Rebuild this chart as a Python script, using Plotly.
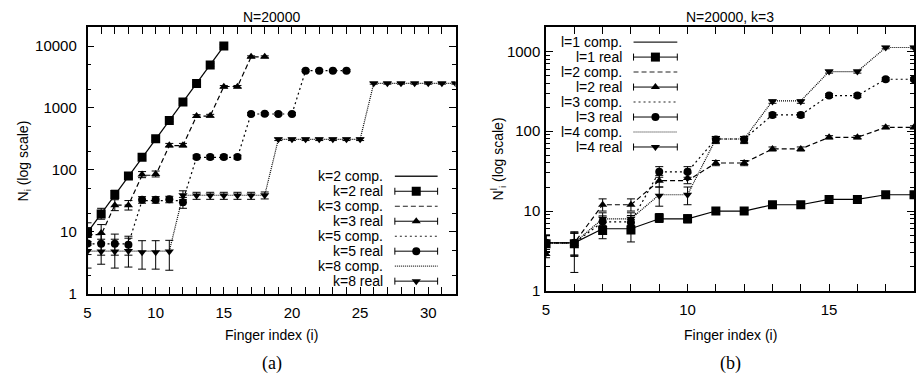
import plotly.graph_objects as go

W, H = 916, 386

# ---------------- Panel (a): N=20000 ----------------
k2_x = [5, 6, 7, 8, 9, 10, 11, 12, 13, 14, 15]
k2_comp = [9.8, 19.5, 39, 78, 156, 312, 625, 1250, 2500, 5000, 10000]
k2_real = [10, 19.5, 40, 80, 160, 320, 630, 1250, 2480, 4950, 10000]
k2_err_hi = [4, 4.5, 7, 8, 12, 20, 35, 60, 120, 250, 500]
k2_err_lo = [3, 3.5, 6, 7, 11, 18, 32, 55, 110, 230, 450]

k3_x = [5, 6, 7, 8, 9, 10, 11, 12, 13, 14, 15, 16, 17, 18]
k3_comp = [9, 9, 27, 27, 82, 82, 247, 247, 741, 741, 2222, 2222, 6667, 6667]
k3_real = [8.6, 9.6, 27, 27, 84, 86, 250, 250, 740, 750, 2200, 2210, 6700, 6700]
k3_err_hi = [3, 3.5, 6, 5, 10, 10, 18, 18, 40, 40, 100, 100, 250, 250]
k3_err_lo = [2.5, 3, 5, 4.5, 9, 9, 16, 16, 36, 36, 90, 90, 220, 220]

k5_x = [5, 6, 7, 8, 9, 10, 11, 12, 13, 14, 15, 16, 17, 18, 19, 20, 21, 22, 23, 24]
k5_comp = [6.4, 6.4, 6.4, 6.4, 32, 32, 32, 32, 160, 160, 160, 160,
           800, 800, 800, 800, 4000, 4000, 4000, 4000]
k5_real = [6.5, 6.4, 6.4, 6.2, 33, 33, 33.5, 30, 162, 161, 162, 161,
           800, 805, 800, 802, 4000, 4010, 4000, 4000]
k5_err_hi = [2.8, 2.8, 2.8, 2.3, 4, 4, 4, 6, 12, 12, 12, 12,
             40, 40, 40, 40, 150, 150, 150, 150]
k5_err_lo = [2.2, 2.2, 2.2, 2.0, 4, 4, 4, 6, 11, 11, 11, 11,
             36, 36, 36, 36, 140, 140, 140, 140]

k8_x = list(range(5, 33))
k8_comp = [4.88] * 7 + [39] * 7 + [312] * 7 + [2500] * 7
k8_real = [4.9, 4.8, 4.8, 4.9, 4.7, 4.7, 4.8,
           39, 38.5, 38.5, 38.5, 38.5, 38.5, 39,
           312, 312, 312, 312, 312, 312, 312,
           2500, 2500, 2500, 2500, 2500, 2500, 2500]
k8_err_hi = [3.5, 2.8, 2.8, 3.0, 2.5, 2.5, 2.5,
             7, 5, 5, 5, 5, 5, 5,
             15, 15, 15, 15, 15, 15, 15,
             80, 80, 80, 80, 80, 80, 80]
k8_err_lo = [2.3, 1.8, 2.2, 2.2, 2.2, 2.2, 2.4,
             6, 5, 5, 5, 5, 5, 5,
             14, 14, 14, 14, 14, 14, 14,
             75, 75, 75, 75, 75, 75, 75]

# ---------------- Panel (b): N=20000, k=3 ----------------
l_x = [5, 6, 7, 8, 9, 10, 11, 12, 13, 14, 15, 16, 17, 18]
l1_comp = [4, 4, 6, 6, 8, 8, 10, 10, 12, 12, 14, 14, 16, 16]
l1_real = [3.9, 3.9, 5.7, 5.8, 8.2, 8.0, 10, 10, 12, 12, 14, 14, 16, 16]
l1_err_hi = [1.0, 1.4, 1.5, 2.0, 1.1, 1.0, 0.9, 0.9, 0.9, 0.9, 0.9, 0.9, 0.9, 0.9]
l1_err_lo = [0.8, 1.2, 1.2, 1.7, 1.0, 0.9, 0.8, 0.8, 0.8, 0.8, 0.8, 0.8, 0.8, 0.8]

l2_comp = [4, 4, 12, 12, 24, 24, 40, 40, 60, 60, 84, 84, 112, 112]
l2_real = [2.9, 3.9, 12, 12, 24, 26, 40, 40, 60, 60, 84, 84, 112, 112]
l2_err_hi = [0.4, 1.6, 2.2, 2.2, 4, 4, 3, 3, 3.5, 3.5, 4, 4, 5, 5]
l2_err_lo = [0.3, 2.2, 2.0, 2.0, 4, 4, 3, 3, 3.5, 3.5, 4, 4, 5, 5]

l3_comp = [4, 4, 7.3, 7.3, 31, 31, 80, 80, 160, 160, 280, 280, 448, 448]
l3_real = [4, 4, 7.4, 7.2, 31, 31, 79, 79, 160, 160, 280, 280, 448, 448]
l3_err_hi = [1, 1.3, 1.3, 1.6, 5, 5, 7, 7, 10, 10, 15, 15, 20, 20]
l3_err_lo = [0.9, 1.2, 1.2, 1.5, 4.5, 4.5, 7, 7, 10, 10, 15, 15, 20, 20]

l4_comp = [4, 4, 8, 8, 16, 16, 80, 80, 240, 240, 560, 560, 1120, 1120]
l4_real = [4, 4, 8, 8, 15.5, 16, 78, 78, 236, 236, 560, 560, 1120, 1120]
l4_err_hi = [1, 1.3, 1.5, 1.5, 4.5, 4, 8, 8, 12, 12, 25, 25, 40, 40]
l4_err_lo = [0.9, 1.2, 1.4, 1.4, 4.0, 4, 8, 8, 12, 12, 25, 25, 40, 40]

legend_a = ["k=2 comp.", "k=2 real", "k=3 comp.", "k=3 real",
            "k=5 comp.", "k=5 real", "k=8 comp.", "k=8 real"]
legend_b = ["l=1 comp.", "l=1 real", "l=2 comp.", "l=2 real",
            "l=3 comp.", "l=3 real", "l=4 comp.", "l=4 real"]

FONT = "Liberation Sans, Arial, Helvetica, sans-serif"
FS = 14
DASHES = ["solid", "5px,3px", "2px,3px", "1px,1px"]
SYMBOLS = ["square", "triangle-up", "circle", "triangle-down"]
MSIZE = [9, 8, 8, 8]

# pixel layout of the two plot boxes
A_L, A_R, A_T, A_B = 84, 454, 28, 300
B_L, B_R, B_T, B_B = 545, 915, 28, 297


def dom_x(l, r):
    return [l / W, r / W]


def dom_y(t, b):
    return [1 - b / H, 1 - t / H]


fig = go.Figure()

series_a = [
    (k2_x, k2_comp, k2_real, k2_err_hi, k2_err_lo),
    (k3_x, k3_comp, k3_real, k3_err_hi, k3_err_lo),
    (k5_x, k5_comp, k5_real, k5_err_hi, k5_err_lo),
    (k8_x, k8_comp, k8_real, k8_err_hi, k8_err_lo),
]
series_b = [
    (l_x, l1_comp, l1_real, l1_err_hi, l1_err_lo),
    (l_x, l2_comp, l2_real, l2_err_hi, l2_err_lo),
    (l_x, l3_comp, l3_real, l3_err_hi, l3_err_lo),
    (l_x, l4_comp, l4_real, l4_err_hi, l4_err_lo),
]

for (xa, ya), series in ((("x", "y"), series_a), (("x2", "y2"), series_b)):
    for i, (xs, comp, real, ehi, elo) in enumerate(series):
        fig.add_trace(go.Scatter(
            x=xs, y=comp, mode="lines", xaxis=xa, yaxis=ya, showlegend=False,
            line=dict(color="black", width=1.2, dash=DASHES[i]), hoverinfo="skip"))
        fig.add_trace(go.Scatter(
            x=xs, y=real, mode="markers", xaxis=xa, yaxis=ya, showlegend=False,
            marker=dict(symbol=SYMBOLS[i], size=MSIZE[i], color="black"),
            error_y=dict(type="data", symmetric=False, array=ehi, arrayminus=elo,
                         color="black", thickness=1, width=4)))


# ---- custom gnuplot-style legends (text left, sample right) on a pixel overlay axis ----
def add_legend(names, text_right, s0, s1, y0, dy):
    for j, name in enumerate(names):
        yy = y0 + dy * j
        i = j // 2
        fig.add_annotation(x=text_right, y=yy, xref="x3", yref="y3", text=name,
                           showarrow=False, xanchor="right", yanchor="middle",
                           font=dict(family=FONT, size=FS, color="black"))
        if j % 2 == 0:
            fig.add_trace(go.Scatter(
                x=[s0, s1], y=[yy, yy], mode="lines", xaxis="x3", yaxis="y3",
                showlegend=False, hoverinfo="skip",
                line=dict(color="#222222", width=1.3 if i == 0 else 1.1, dash=DASHES[i])))
        else:
            c = (s0 + s1) / 2
            fig.add_trace(go.Scatter(
                x=[c], y=[yy], mode="markers", xaxis="x3", yaxis="y3",
                showlegend=False, hoverinfo="skip",
                marker=dict(symbol=SYMBOLS[i], size=MSIZE[i], color="black"),
                error_x=dict(type="constant", value=(s1 - s0) / 2, color="black",
                             thickness=1, width=3.5)))


add_legend(legend_a, 383, 393, 436, 180, 15.3)
add_legend(legend_b, 623, 633, 677, 43, 15.3)

axis_common = dict(showline=True, linecolor="black", linewidth=1.5, mirror="ticks",
                   ticks="inside", ticklen=7, tickwidth=1, tickcolor="black",
                   showgrid=False, zeroline=False,
                   tickfont=dict(family=FONT, size=15, color="black"))

fig.update_layout(
    width=W, height=H, margin=dict(l=0, r=0, t=0, b=0),
    paper_bgcolor="white", plot_bgcolor="rgba(0,0,0,0)", showlegend=False,
    xaxis=dict(domain=dom_x(A_L, A_R), anchor="y", range=[5, 32],
               tickvals=[5, 10, 15, 20, 25, 30], ticklabelstandoff=4,
               minor=dict(dtick=1, tick0=5, ticks="inside", ticklen=7, tickcolor="black"),
               **axis_common),
    yaxis=dict(domain=dom_y(A_T, A_B), anchor="x", type="log",
               range=[0, 4.30103], tickvals=[1, 10, 100, 1000, 10000],
               ticktext=["1", "10", "100", "1000", "10000"], ticklabelstandoff=6,
               minor=dict(dtick="D2", ticks="inside", ticklen=4, tickcolor="black"),
               **axis_common),
    xaxis2=dict(domain=dom_x(B_L, B_R), anchor="y2", range=[5, 18],
                tickvals=[5, 10, 15], ticklabelstandoff=4,
                minor=dict(dtick=1, tick0=5, ticks="inside", ticklen=7, tickcolor="black"),
                **axis_common),
    yaxis2=dict(domain=dom_y(B_T, B_B), anchor="x2", type="log",
                range=[0, 3.30103], tickvals=[1, 10, 100, 1000],
                ticktext=["1", "10", "100", "1000"], ticklabelstandoff=1,
                minor=dict(dtick="D1", ticks="inside", ticklen=4, tickcolor="black"),
                **axis_common),
    xaxis3=dict(domain=[0, 1], anchor="y3", range=[0, W], visible=False, fixedrange=True),
    yaxis3=dict(domain=[0, 1], anchor="x3", range=[H, 0], visible=False, fixedrange=True),
)

txt = dict(family=FONT, size=FS, color="black")
serif = dict(family="Liberation Serif, Times New Roman, serif", size=18, color="black")
labels = [
    ((A_L + A_R) / 2, 17, "N=20000", 0, txt),
    ((B_L + B_R) / 2, 17, "N=20000, k=3", 0, txt),
    ((A_L + A_R) / 2, 342, "Finger index (i)", 0, txt),
    ((B_L + B_R) / 2, 342, "Finger index (i)", 0, txt),
    (20, (A_T + A_B) / 2, "N<sub>i</sub> (log scale)", -90, txt),
    (497, (B_T + B_B) / 2, "N<sup>l</sup><sub>i</sub> (log scale)", -90, txt),
    ((A_L + A_R) / 2, 371, "(a)", 0, serif),
    ((B_L + B_R) / 2, 371, "(b)", 0, serif),
]
for x, y, t, ang, f in labels:
    fig.add_annotation(x=x, y=y, xref="x3", yref="y3", text=t, showarrow=False,
                       xanchor="center", yanchor="middle", textangle=ang, font=f)

fig.write_html("out.html")
